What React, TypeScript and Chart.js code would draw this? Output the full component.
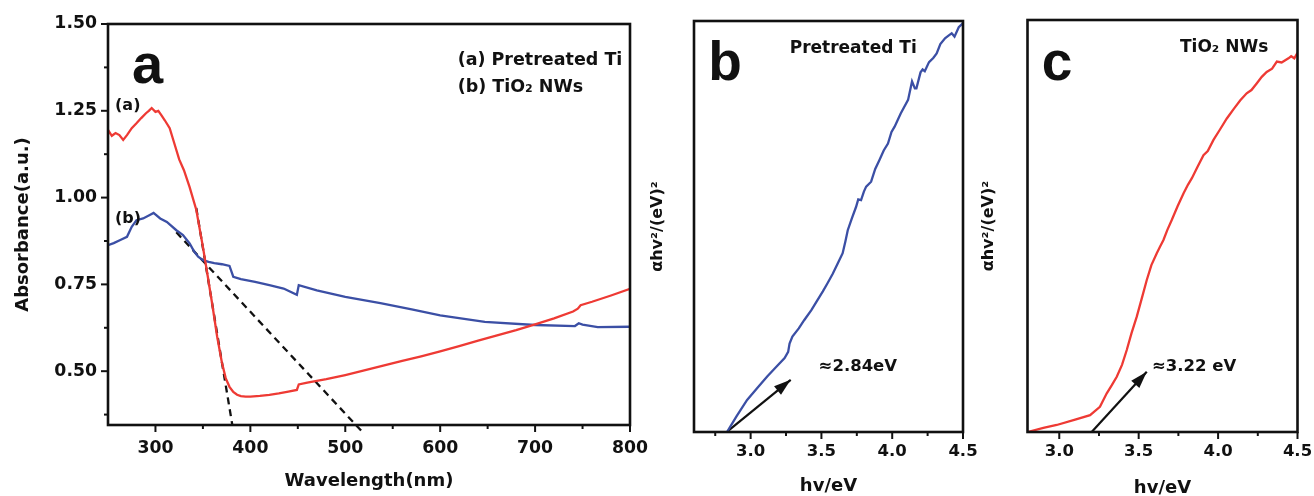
import React, { useEffect, useRef } from "react";
import { Chart, registerables } from "chart.js";

Chart.register(...registerables);

// ---------- Panel a data ----------
const RED_WL = [250, 254, 258, 262, 266, 270, 275, 280, 285, 290, 293, 296, 300, 303, 306, 310, 315, 320, 325, 330, 336, 343, 350, 355, 360, 365, 370, 374, 378, 382, 386, 390, 395, 400, 410, 420, 430, 440, 449, 451, 460, 480, 500, 520, 540, 560, 580, 600, 620, 640, 660, 680, 700, 720, 740, 745, 748, 760, 780, 800];
const RED_ABS = [1.195, 1.178, 1.186, 1.18, 1.166, 1.18, 1.2, 1.214, 1.229, 1.243, 1.25, 1.258, 1.247, 1.25, 1.238, 1.222, 1.2, 1.155, 1.11, 1.079, 1.03, 0.965, 0.858, 0.775, 0.69, 0.6, 0.525, 0.48, 0.455, 0.44, 0.432, 0.428, 0.427, 0.427, 0.429, 0.432, 0.436, 0.441, 0.446, 0.462, 0.467, 0.477, 0.489, 0.502, 0.516, 0.53, 0.543, 0.557, 0.572, 0.588, 0.603, 0.618, 0.635, 0.652, 0.672, 0.68, 0.69, 0.7, 0.718, 0.737];
const BLUE_WL = [250, 256, 263, 270, 275, 280, 287, 294, 298, 305, 312, 322, 329, 336, 341, 345, 350, 356, 362, 370, 378, 382, 390, 405, 420, 435, 449, 451, 470, 500, 537, 570, 600, 647, 700, 742, 746, 750, 766, 800];
const BLUE_ABS = [0.863, 0.869, 0.878, 0.887, 0.916, 0.935, 0.94, 0.95, 0.956, 0.94, 0.93, 0.906, 0.892, 0.868, 0.844, 0.83, 0.82, 0.815, 0.811, 0.808, 0.803, 0.772, 0.765, 0.757, 0.748, 0.738, 0.72, 0.748, 0.733, 0.714, 0.696, 0.678, 0.661, 0.642, 0.633, 0.63, 0.638, 0.634, 0.627, 0.628];
const TANGENT1_WL = [343, 381];
const TANGENT1_ABS = [0.97, 0.345];
const TANGENT2_WL = [322, 518];
const TANGENT2_ABS = [0.9, 0.325];
const A_X_TICKS = [300, 400, 500, 600, 700, 800];
const A_X_MINOR = [350, 450, 550, 650, 750];
const A_Y_TICKS = [0.5, 0.75, 1.0, 1.25, 1.5];
const A_Y_MINOR = [0.375, 0.625, 0.875, 1.125, 1.375];

// ---------- Panel b data ----------
const B_HV = [2.833, 2.9, 2.975, 3.05, 3.117, 3.18, 3.24, 3.265, 3.275, 3.295, 3.34, 3.378, 3.43, 3.472, 3.51, 3.543, 3.58, 3.615, 3.65, 3.67, 3.686, 3.715, 3.745, 3.76, 3.78, 3.8, 3.816, 3.851, 3.88, 3.91, 3.94, 3.97, 3.995, 4.017, 4.06, 4.112, 4.14, 4.16, 4.171, 4.2, 4.215, 4.23, 4.26, 4.29, 4.314, 4.34, 4.373, 4.4, 4.42, 4.44, 4.47, 4.5];
const B_VAL = [0.0, 0.038, 0.078, 0.108, 0.135, 0.158, 0.18, 0.195, 0.215, 0.232, 0.252, 0.272, 0.297, 0.321, 0.342, 0.362, 0.385, 0.41, 0.435, 0.465, 0.491, 0.52, 0.548, 0.566, 0.564, 0.585, 0.597, 0.609, 0.64, 0.662, 0.685, 0.702, 0.73, 0.743, 0.775, 0.808, 0.853, 0.836, 0.836, 0.875, 0.882, 0.878, 0.9, 0.91, 0.921, 0.944, 0.958, 0.965, 0.97, 0.962, 0.985, 0.995];
const B_ARROW_HV = [2.845, 3.283];
const B_ARROW_VAL = [0.004, 0.127];
const B_X_TICKS = [3.0, 3.5, 4.0, 4.5];
const B_X_MINOR = [2.75, 3.25, 3.75, 4.25];

// ---------- Panel c data ----------
const C_HV = [2.8, 2.9, 2.984, 3.1, 3.194, 3.256, 3.299, 3.33, 3.362, 3.395, 3.425, 3.455, 3.488, 3.52, 3.551, 3.58, 3.614, 3.635, 3.656, 3.68, 3.709, 3.745, 3.782, 3.81, 3.835, 3.87, 3.908, 3.935, 3.971, 4.01, 4.055, 4.1, 4.14, 4.18, 4.21, 4.243, 4.275, 4.306, 4.34, 4.37, 4.4, 4.443, 4.46, 4.48, 4.5];
const C_VAL = [0.0, 0.01, 0.017, 0.03, 0.041, 0.061, 0.094, 0.113, 0.134, 0.163, 0.199, 0.24, 0.28, 0.325, 0.369, 0.405, 0.434, 0.45, 0.466, 0.49, 0.515, 0.548, 0.579, 0.6, 0.616, 0.643, 0.672, 0.682, 0.709, 0.733, 0.761, 0.785, 0.805, 0.822, 0.83, 0.846, 0.862, 0.874, 0.882, 0.899, 0.897, 0.907, 0.912, 0.907, 0.92];
const C_ARROW_HV = [3.204, 3.551];
const C_ARROW_VAL = [0.0, 0.146];
const C_X_TICKS = [3.0, 3.5, 4.0, 4.5];
const C_X_MINOR = [3.25, 3.75, 4.25];

const RED = "#ee3a34";
const BLUE = "#3b4fa5";
const INK = "#111111";
const FONT = "DejaVu Sans";

type Txt = { t: string; x: number; y: number; size: number; family?: string; base?: CanvasTextBaseline };

const A_TEXTS: Txt[] = [
  { t: "a", x: 275.3, y: 1.33, size: 56, family: "Liberation Sans", base: "alphabetic" },
  { t: "(a) Pretreated Ti", x: 618.4, y: 1.396, size: 17.5 },
  { t: "(b) TiO\u2082 NWs", x: 618.4, y: 1.318, size: 17.5 },
  { t: "(a)", x: 257.4, y: 1.264, size: 16 },
  { t: "(b)", x: 257.4, y: 0.938, size: 16 },
];
const B_TEXTS: Txt[] = [
  { t: "b", x: 2.7, y: 0.856, size: 55, family: "Liberation Sans", base: "alphabetic" },
  { t: "Pretreated Ti", x: 3.276, y: 0.934, size: 17 },
  { t: "\u22482.84eV", x: 3.48, y: 0.158, size: 16.5 },
];
const C_TEXTS: Txt[] = [
  { t: "c", x: 2.89, y: 0.854, size: 55, family: "Liberation Sans", base: "alphabetic" },
  { t: "TiO\u2082 NWs", x: 3.76, y: 0.932, size: 17 },
  { t: "\u22483.22 eV", x: 3.584, y: 0.158, size: 16.5 },
];

const pts = (xs: number[], ys: number[]) => xs.map((x, i) => ({ x, y: ys[i] }));

function makeDecor(cfg: { xMajor: number[]; xMinor: number[]; yMajor: number[]; yMinor: number[]; texts: Txt[] }) {
  return {
    id: "decor",
    afterDraw(chart: any) {
      const { ctx, chartArea: ca, scales } = chart;
      const sx = scales.x;
      const sy = scales.y;
      ctx.save();
      ctx.strokeStyle = INK;
      ctx.fillStyle = INK;
      // arrows heads
      chart.data.datasets.forEach((ds: any, i: number) => {
        if (!ds.arrow) return;
        const meta = chart.getDatasetMeta(i);
        const p = meta.data;
        const p0 = p[p.length - 2];
        const p1 = p[p.length - 1];
        const ang = Math.atan2(p1.y - p0.y, p1.x - p0.x);
        const L = 17;
        const W = 5.5;
        const c = Math.cos(ang);
        const s = Math.sin(ang);
        ctx.beginPath();
        ctx.moveTo(p1.x, p1.y);
        ctx.lineTo(p1.x - L * c + W * s, p1.y - L * s - W * c);
        ctx.lineTo(p1.x - L * c - W * s, p1.y - L * s + W * c);
        ctx.closePath();
        ctx.fill();
      });
      // frame
      ctx.lineWidth = 2.6;
      ctx.strokeRect(ca.left, ca.top, ca.right - ca.left, ca.bottom - ca.top);
      // ticks
      ctx.lineWidth = 2;
      const seg = (x0: number, y0: number, x1: number, y1: number) => {
        ctx.beginPath();
        ctx.moveTo(x0, y0);
        ctx.lineTo(x1, y1);
        ctx.stroke();
      };
      cfg.xMajor.forEach((v) => { const px = sx.getPixelForValue(v); seg(px, ca.bottom, px, ca.bottom + 7); });
      cfg.xMinor.forEach((v) => { const px = sx.getPixelForValue(v); seg(px, ca.bottom, px, ca.bottom + 4); });
      cfg.yMajor.forEach((v) => { const py = sy.getPixelForValue(v); seg(ca.left, py, ca.left - 7, py); });
      cfg.yMinor.forEach((v) => { const py = sy.getPixelForValue(v); seg(ca.left, py, ca.left - 4, py); });
      // texts
      cfg.texts.forEach((t) => {
        ctx.font = `bold ${t.size}px "${t.family || FONT}"`;
        ctx.textAlign = "left";
        ctx.textBaseline = t.base || "middle";
        ctx.fillText(t.t, sx.getPixelForValue(t.x), sy.getPixelForValue(t.y));
      });
      ctx.restore();
    },
  };
}

const font = (size: number, lineHeight = 1.2) => ({ family: FONT, weight: "bold" as const, size, lineHeight });

function lineDs(data: any[], color: string, width: number, extra: any = {}) {
  return { data, borderColor: color, borderWidth: width, pointRadius: 0, tension: 0, fill: false, ...extra };
}

function configA(): any {
  return {
    type: "line",
    data: {
      datasets: [
        lineDs(pts(RED_WL, RED_ABS), RED, 2.3),
        lineDs(pts(BLUE_WL, BLUE_ABS), BLUE, 2.3),
        lineDs(pts(TANGENT1_WL, TANGENT1_ABS), INK, 2.3, { borderDash: [7, 5] }),
        lineDs(pts(TANGENT2_WL, TANGENT2_ABS), INK, 2.3, { borderDash: [7, 5], clip: false }),
      ],
    },
    options: {
      responsive: false,
      animation: false,
      events: [],
      layout: { padding: { left: 0, top: 24, right: 20, bottom: 0 } },
      plugins: { legend: { display: false }, tooltip: { enabled: false } },
      scales: {
        x: {
          type: "linear",
          min: 250,
          max: 800,
          afterBuildTicks: (s: any) => { s.ticks = A_X_TICKS.map((v) => ({ value: v })); },
          afterFit: (s: any) => { s.height = 71; },
          grid: { display: false, drawTicks: true, tickLength: 13 },
          border: { display: false },
          ticks: { padding: 0, color: INK, font: font(17.3), maxRotation: 0, autoSkip: false, callback: (v: any) => String(v) },
          title: { display: true, text: "Wavelength(nm)", color: INK, font: font(18), padding: { top: 0, bottom: 4 } },
        },
        y: {
          type: "linear",
          min: 0.345,
          max: 1.5,
          afterBuildTicks: (s: any) => { s.ticks = A_Y_TICKS.map((v) => ({ value: v })); },
          afterFit: (s: any) => { s.width = 108; },
          grid: { display: false, drawTicks: true, tickLength: 8 },
          border: { display: false },
          ticks: { padding: 3, color: INK, font: font(17.3), autoSkip: false, callback: (v: any) => Number(v).toFixed(2) },
          title: { display: true, text: "Absorbance(a.u.)", color: INK, font: font(18), padding: { top: 13, bottom: 0 } },
        },
      },
    },
    plugins: [makeDecor({ xMajor: A_X_TICKS, xMinor: A_X_MINOR, yMajor: A_Y_TICKS, yMinor: A_Y_MINOR, texts: A_TEXTS })],
  };
}

function configBC(opts: {
  hv: number[]; val: number[]; color: string; arrowHv: number[]; arrowVal: number[];
  xmin: number; xTicks: number[]; xMinor: number[]; texts: Txt[];
  padTop: number; padRight: number; yWidth: number; yTitlePad: number; xTitleLH: number; xTitlePad: number;
}): any {
  return {
    type: "line",
    data: {
      datasets: [
        lineDs(pts(opts.hv, opts.val), opts.color, 2.3),
        lineDs(pts(opts.arrowHv, opts.arrowVal), INK, 2.2, { arrow: true, clip: false }),
      ],
    },
    options: {
      responsive: false,
      animation: false,
      events: [],
      layout: { padding: { left: 0, top: opts.padTop, right: opts.padRight, bottom: 0 } },
      plugins: { legend: { display: false }, tooltip: { enabled: false } },
      scales: {
        x: {
          type: "linear",
          min: opts.xmin,
          max: 4.5,
          afterBuildTicks: (s: any) => { s.ticks = opts.xTicks.map((v) => ({ value: v })); },
          afterFit: (s: any) => { s.height = 64; },
          grid: { display: false, drawTicks: true, tickLength: 9.8 },
          border: { display: false },
          ticks: { padding: 0, color: INK, font: font(16.5), maxRotation: 0, autoSkip: false, callback: (v: any) => Number(v).toFixed(1) },
          title: { display: true, text: "hv/eV", color: INK, font: font(18, opts.xTitleLH), padding: { top: 0, bottom: opts.xTitlePad } },
        },
        y: {
          type: "linear",
          min: 0,
          max: 1,
          afterFit: (s: any) => { s.width = opts.yWidth; },
          grid: { display: false, drawTicks: false },
          border: { display: false },
          ticks: { display: false },
          title: { display: true, text: "\u03b1hv\u00b2/(eV)\u00b2", color: INK, font: font(16), padding: { top: opts.yTitlePad, bottom: 0 } },
        },
      },
    },
    plugins: [makeDecor({ xMajor: opts.xTicks, xMinor: opts.xMinor, yMajor: [], yMinor: [], texts: opts.texts })],
  };
}

function ChartBox(props: { left: number; width: number; make: () => any }) {
  const ref = useRef<HTMLCanvasElement | null>(null);
  useEffect(() => {
    if (!ref.current) return;
    const chart = new Chart(ref.current, props.make());
    return () => chart.destroy();
  }, []);
  return (
    <div style={{ position: "absolute", left: props.left, top: 0, width: props.width, height: 496 }}>
      <canvas ref={ref} width={props.width} height={496} style={{ display: "block" }} />
    </div>
  );
}

export default function App() {
  return (
    <div style={{ position: "absolute", left: 0, top: 0, width: 1314, height: 496, background: "#ffffff", overflow: "hidden" }}>
      <ChartBox left={0} width={650} make={configA} />
      <ChartBox
        left={640}
        width={341}
        make={() =>
          configBC({
            hv: B_HV, val: B_VAL, color: BLUE, arrowHv: B_ARROW_HV, arrowVal: B_ARROW_VAL,
            xmin: 2.6, xTicks: B_X_TICKS, xMinor: B_X_MINOR, texts: B_TEXTS,
            padTop: 21, padRight: 18, yWidth: 54, yTitlePad: 8.4, xTitleLH: 1.0, xTitlePad: 0.5,
          })
        }
      />
      <ChartBox
        left={970}
        width={344}
        make={() =>
          configBC({
            hv: C_HV, val: C_VAL, color: RED, arrowHv: C_ARROW_HV, arrowVal: C_ARROW_VAL,
            xmin: 2.8, xTicks: C_X_TICKS, xMinor: C_X_MINOR, texts: C_TEXTS,
            padTop: 20, padRight: 16.5, yWidth: 57.5, yTitlePad: 9.4, xTitleLH: 0.8, xTitlePad: 0,
          })
        }
      />
    </div>
  );
}
